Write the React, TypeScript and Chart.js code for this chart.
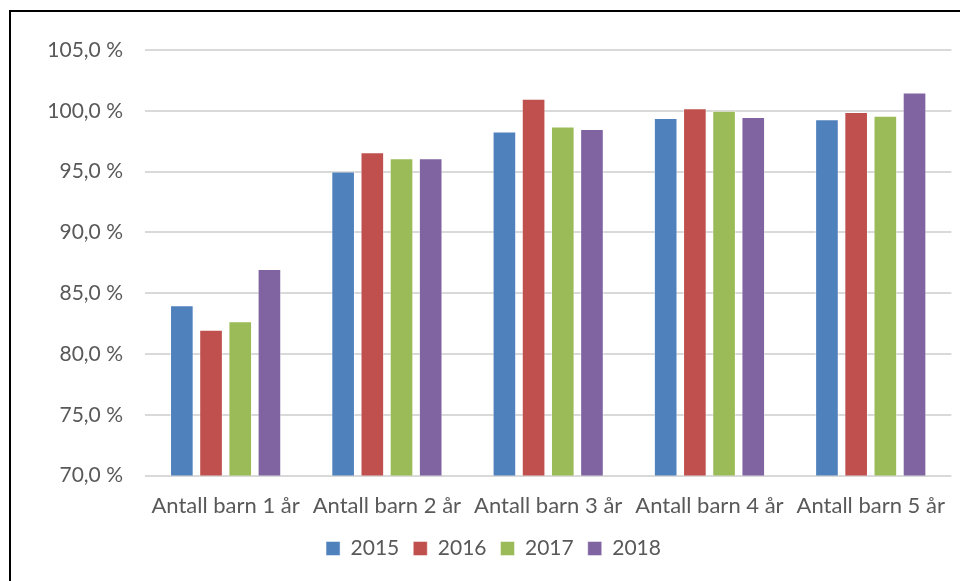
import React, { useEffect, useRef } from "react";
import { Chart, registerables } from "chart.js";

Chart.register(...registerables);

const categories = ["Antall barn 1 år", "Antall barn 2 år", "Antall barn 3 år", "Antall barn 4 år", "Antall barn 5 år"];
const seriesNames = ["2015", "2016", "2017", "2018"];
const values2015 = [84.0, 95.0, 98.3, 99.4, 99.3];
const values2016 = [82.0, 96.6, 101.0, 100.2, 99.9];
const values2017 = [82.7, 96.1, 98.7, 100.0, 99.6];
const values2018 = [87.0, 96.1, 98.5, 99.5, 101.5];
const colors = ["#4F81BD", "#C0504D", "#9BBB59", "#8064A2"];
const yMin = 70;
const yMax = 105;
const yStep = 5;

const legendShift = {
  id: "legendShift",
  afterLayout(chart: any) {
    const lg = chart.legend;
    if (lg) {
      lg.top -= 12;
      lg.bottom -= 12;
      lg.left += 13;
      lg.right += 13;
    }
  },
};

export default function App() {
  const ref = useRef<HTMLCanvasElement>(null);
  useEffect(() => {
    document.body.style.margin = "0";
    const all = [values2015, values2016, values2017, values2018];
    const font = "Lato";
    const chart = new Chart(ref.current!, {
      type: "bar",
      data: {
        labels: categories,
        datasets: seriesNames.map((n, i) => ({
          label: n,
          data: all[i],
          backgroundColor: colors[i],
          borderColor: "rgba(255,255,255,0.45)",
          borderWidth: 1,
          categoryPercentage: 0.724,
          barPercentage: 0.81,
        })),
      },
      plugins: [legendShift],
      options: {
        responsive: false,
        animation: false,
        layout: { padding: { top: 50, right: 1, left: 0, bottom: 0 } },
        plugins: {
          tooltip: { enabled: false },
          legend: {
            position: "bottom",
            labels: {
              boxWidth: 14,
              boxHeight: 14,
              padding: 14,
              color: "#595959",
              font: { family: font, size: 21 },
            },
          },
        },
        scales: {
          x: {
            grid: { display: false, drawTicks: false },
            border: { display: false },
            ticks: { color: "#595959", font: { family: font, size: 22 }, padding: 17, maxRotation: 0, autoSkip: false },
          },
          y: {
            min: yMin,
            max: yMax,
            afterFit: (s: any) => { s.width = 145; },
            grid: { color: "#D9D9D9", lineWidth: 2, drawTicks: false },
            border: { display: false },
            ticks: {
              stepSize: yStep,
              padding: 22,
              color: "#595959",
              font: { family: font, size: 21 },
              callback: (v: any) => Number(v).toFixed(1).replace(".", ",") + " %",
            },
          },
        },
      },
    });
    return () => chart.destroy();
  }, []);
  return (
    <div style={{ position: "fixed", left: 0, top: 0, width: 960, height: 581, overflow: "hidden", background: "#fff" }}>
      <canvas ref={ref} width={962} height={581} style={{ position: "absolute", left: 0, top: 0 }} />
      <div style={{ position: "absolute", left: 9, top: 10, width: 2000, height: 2000, border: "2px solid #000", pointerEvents: "none" }} />
    </div>
  );
}
